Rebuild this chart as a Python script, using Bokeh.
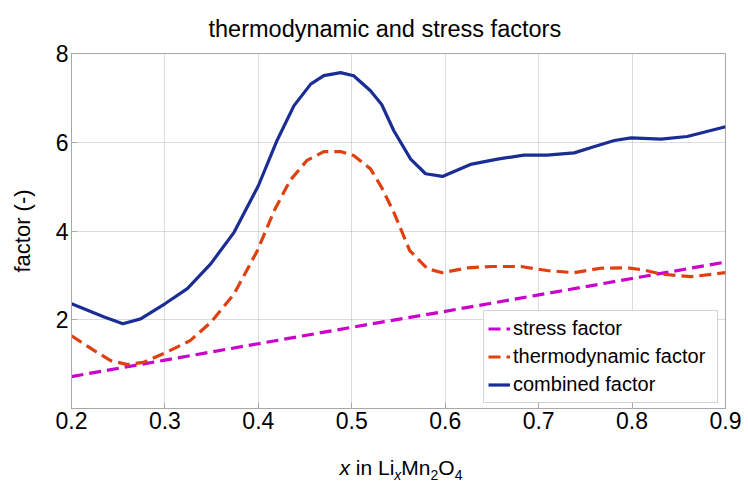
from bokeh.plotting import figure
from bokeh.models import Range1d, FixedTicker, Legend, LegendItem, Div
from bokeh.layouts import column
from bokeh.embed import file_html
from bokeh.resources import INLINE

FONT = "Liberation Sans"

# ---- data ----
x_ticks = [0.2, 0.3, 0.4, 0.5, 0.6, 0.7, 0.8, 0.9]
y_ticks = [2, 4, 6, 8]

stress_x = [0.2, 0.3, 0.4, 0.5, 0.6, 0.7, 0.8, 0.9]
stress_y = [0.72, 1.09, 1.46, 1.83, 2.19, 2.56, 2.93, 3.30]

thermo_x = [0.200, 0.224, 0.242, 0.260, 0.277, 0.302, 0.327, 0.349, 0.374, 0.399,
            0.417, 0.434, 0.452, 0.470, 0.488, 0.502, 0.520, 0.532, 0.545, 0.562,
            0.581, 0.597, 0.624, 0.649, 0.681, 0.709, 0.738, 0.766, 0.795, 0.813,
            0.831, 0.863, 0.900]
thermo_y = [1.64, 1.31, 1.08, 0.99, 1.04, 1.27, 1.53, 1.94, 2.58, 3.56,
            4.46, 5.14, 5.59, 5.79, 5.79, 5.70, 5.40, 4.98, 4.42, 3.56,
            3.15, 3.06, 3.17, 3.20, 3.20, 3.11, 3.06, 3.16, 3.17, 3.12,
            3.03, 2.97, 3.06]

comb_x = [0.200, 0.235, 0.255, 0.274, 0.300, 0.324, 0.349, 0.374, 0.400, 0.420,
          0.438, 0.456, 0.470, 0.488, 0.502, 0.520, 0.532, 0.545, 0.563, 0.579,
          0.597, 0.627, 0.656, 0.684, 0.709, 0.738, 0.759, 0.781, 0.799, 0.831,
          0.859, 0.900]
comb_y = [2.36, 2.06, 1.91, 2.02, 2.36, 2.70, 3.26, 3.97, 5.02, 6.04,
          6.82, 7.31, 7.50, 7.57, 7.50, 7.16, 6.85, 6.26, 5.62, 5.29,
          5.23, 5.50, 5.62, 5.71, 5.71, 5.76, 5.90, 6.04, 6.10, 6.07,
          6.13, 6.35]

series_labels = ["stress factor", "thermodynamic factor", "combined factor"]
title_text = "thermodynamic and stress factors"
y_label = "factor (-)"
SUB = '<sub style="font-size:14px;line-height:0;vertical-align:-5px">'
x_label_html = ("<i>x</i> in Li" + SUB + "<i>x</i></sub>Mn" + SUB + "2</sub>O"
                + SUB + "4</sub>")

# ---- figure ----
p = figure(width=748, height=448, output_backend="svg", toolbar_location=None,
           x_range=Range1d(0.2, 0.9), y_range=Range1d(0, 8),
           min_border_left=71, min_border_right=23, min_border_top=53,
           min_border_bottom=40, background_fill_color="white",
           border_fill_color="white")
p.outline_line_color = "#a8a8a8"
p.outline_line_width = 1

p.title.text = title_text
p.title.text_font = FONT
p.title.text_font_size = "23.5px"
p.title.text_font_style = "normal"
p.title.text_color = "black"
p.title.align = "left"
p.title.offset = 137
p.title.standoff = 24

for ax in (p.xaxis[0], p.yaxis[0]):
    ax.major_label_text_font = FONT
    ax.major_label_text_font_size = "23px"
    ax.major_label_text_color = "black"
    ax.axis_line_color = "#a8a8a8"
    ax.major_tick_line_color = "#a8a8a8"
    ax.major_tick_in = 6
    ax.major_tick_out = 0
    ax.minor_tick_line_color = None

p.xaxis[0].ticker = FixedTicker(ticks=x_ticks)
p.yaxis[0].ticker = FixedTicker(ticks=y_ticks)
p.xaxis[0].major_label_standoff = 3
p.yaxis[0].major_label_standoff = 3

p.yaxis[0].axis_label = y_label
p.yaxis[0].axis_label_text_font = FONT
p.yaxis[0].axis_label_text_font_size = "22px"
p.yaxis[0].axis_label_text_font_style = "normal"
p.yaxis[0].axis_label_text_color = "black"
p.yaxis[0].axis_label_standoff = 18

p.xgrid.ticker = FixedTicker(ticks=x_ticks)
p.ygrid.ticker = FixedTicker(ticks=y_ticks)
for g in (p.xgrid[0], p.ygrid[0]):
    g.grid_line_color = "#b8b8b8"
    g.grid_line_dash = "1 1"
    g.grid_line_width = 1

r_s = p.line(stress_x, stress_y, line_color="#cc00cc", line_width=3.2,
             line_dash="12 6")
r_t = p.line(thermo_x, thermo_y, line_color="#e0400f", line_width=3.2,
             line_dash="12 6")
r_c = p.line(comb_x, comb_y, line_color="#1a2d94", line_width=3.2)

legend = Legend(items=[LegendItem(label=series_labels[0], renderers=[r_s]),
                       LegendItem(label=series_labels[1], renderers=[r_t]),
                       LegendItem(label=series_labels[2], renderers=[r_c])],
                location=(412, 5))
legend.label_text_font = FONT
legend.label_text_font_size = "20px"
legend.label_text_color = "black"
legend.label_standoff = 3
legend.glyph_width = 22
legend.glyph_height = 27
legend.label_height = 27
legend.label_width = 200
legend.spacing = 1
legend.padding = 4
legend.margin = 0
legend.border_line_color = "#a8a8a8"
legend.border_line_width = 1
legend.background_fill_color = "white"
legend.background_fill_alpha = 1
p.add_layout(legend, "center")

# ---- x axis label (italic x and subscripts) as real HTML text ----
xlab = Div(text=x_label_html, width=748, height=38,
           styles={"font-family": FONT, "font-size": "21px",
                   "color": "black", "text-align": "center",
                   "line-height": "24px", "padding-top": "3px",
                   "padding-left": "44px", "box-sizing": "border-box",
                   "width": "748px", "overflow": "visible"})

layout = column(p, xlab, spacing=0)
open("out.html", "w").write(file_html(layout, INLINE))
